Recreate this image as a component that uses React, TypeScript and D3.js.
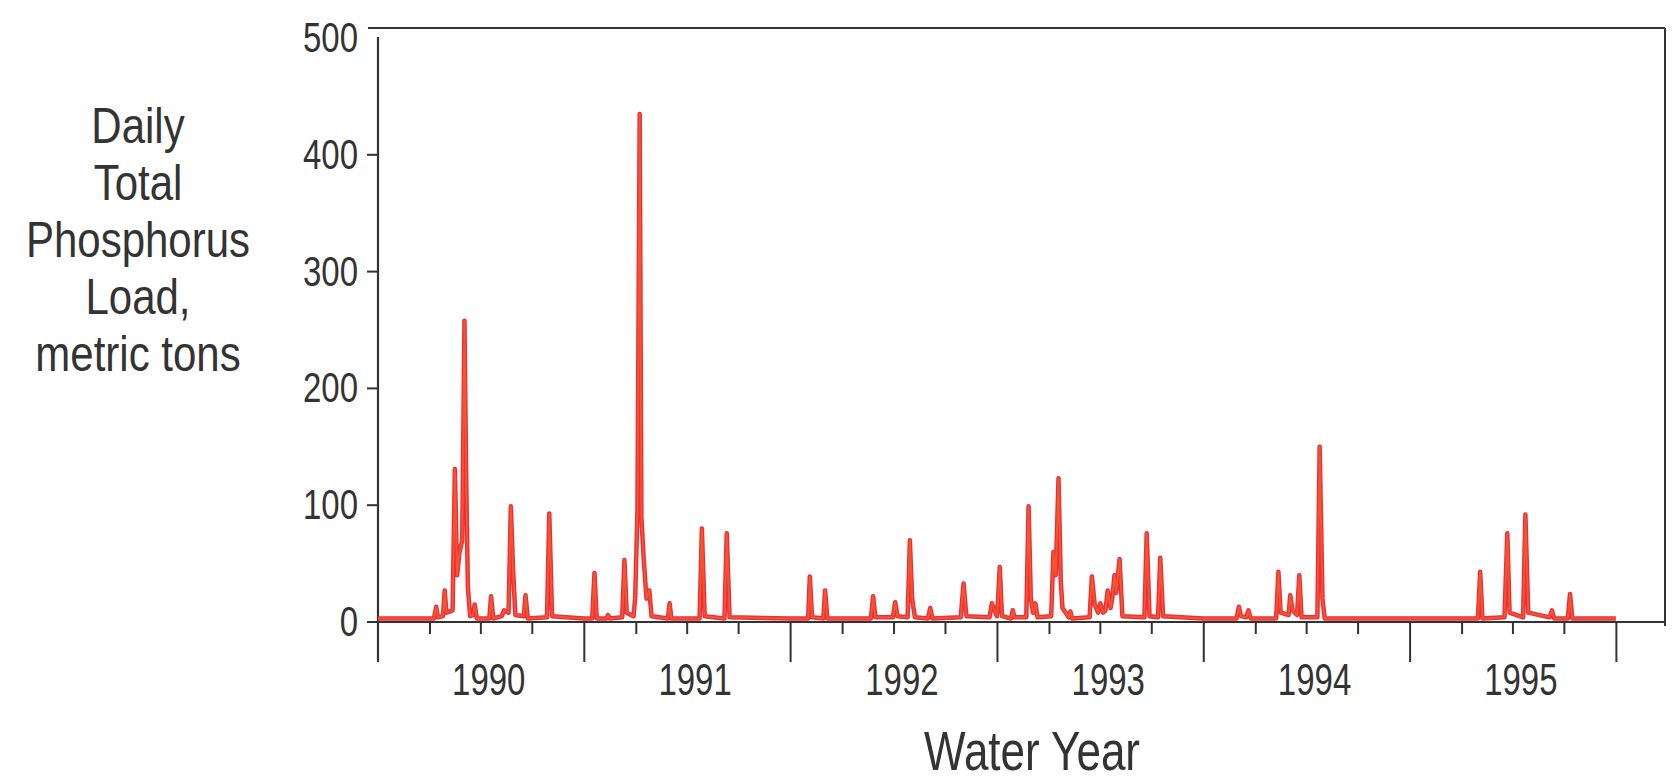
import React from "react";
import * as d3 from "d3";

// ---- Data ----
const wy1990Dates = ["1989-10-01","1990-01-08","1990-01-12","1990-01-15","1990-01-24","1990-01-27","1990-01-30","1990-02-10","1990-02-14","1990-02-18","1990-02-22","1990-02-27","1990-03-03","1990-03-06","1990-03-09","1990-03-13","1990-03-18","1990-03-21","1990-03-25","1990-04-16","1990-04-19","1990-04-23","1990-05-08","1990-05-12","1990-05-20","1990-05-24","1990-05-28","1990-06-01","1990-06-16","1990-06-19","1990-06-23","1990-07-27","1990-07-31","1990-08-05","1990-09-30"];
const wy1990Loads = [3,3,13,4,5,27,8,10,131,40,59,70,258,125,30,5,6,15,3,3,22,3,5,10,8,99,45,6,5,23,3,4,93,5,3];

const wy1991Dates = ["1990-10-01","1990-10-15","1990-10-19","1990-10-23","1990-11-09","1990-11-12","1990-11-15","1990-12-07","1990-12-11","1990-12-15","1990-12-27","1990-12-30","1991-01-03","1991-01-07","1991-01-10","1991-01-14","1991-01-19","1991-01-24","1991-01-28","1991-02-26","1991-03-01","1991-03-04","1991-04-23","1991-04-27","1991-05-02","1991-06-06","1991-06-10","1991-06-15","1991-09-30"];
const wy1991Loads = [3,3,42,3,3,6,3,4,53,8,5,20,95,435,90,55,20,27,5,3,16,3,3,80,5,3,76,4,3];

const wy1992Dates = ["1991-10-01","1991-11-01","1991-11-04","1991-11-08","1991-11-28","1991-12-01","1991-12-05","1992-02-20","1992-02-24","1992-02-28","1992-03-30","1992-04-03","1992-04-07","1992-04-25","1992-04-29","1992-05-03","1992-05-08","1992-05-31","1992-06-04","1992-06-08","1992-07-28","1992-08-02","1992-08-07","1992-09-17","1992-09-21","1992-09-30"];
const wy1992Loads = [3,3,39,4,3,27,3,3,22,4,4,17,5,4,70,20,4,3,12,3,4,33,5,4,16,5];

const wy1993Dates = ["1992-10-01","1992-10-05","1992-10-09","1992-10-25","1992-10-28","1992-10-31","1992-11-21","1992-11-25","1992-11-29","1992-12-03","1992-12-07","1992-12-11","1993-01-04","1993-01-08","1993-01-12","1993-01-17","1993-01-21","1993-01-24","1993-02-04","1993-02-07","1993-02-10","1993-03-13","1993-03-17","1993-03-22","1993-03-28","1993-04-01","1993-04-06","1993-04-10","1993-04-14","1993-04-19","1993-04-22","1993-04-26","1993-04-29","1993-05-05","1993-05-10","1993-06-18","1993-06-22","1993-06-27","1993-07-12","1993-07-16","1993-07-21","1993-09-30"];
const wy1993Loads = [10,47,5,3,10,4,4,99,20,8,16,4,5,60,40,123,35,12,4,9,3,4,39,15,8,16,8,10,27,12,20,40,25,54,5,4,76,5,4,55,5,3];

const wy1994Dates = ["1993-10-01","1993-11-28","1993-12-02","1993-12-06","1993-12-15","1993-12-19","1993-12-23","1994-02-06","1994-02-10","1994-02-14","1994-02-28","1994-03-03","1994-03-07","1994-03-15","1994-03-19","1994-03-23","1994-04-20","1994-04-24","1994-04-29","1994-05-03","1994-09-30"];
const wy1994Loads = [3,3,13,5,4,10,3,3,43,8,6,23,10,6,40,4,4,150,20,3,3];

const wy1995Dates = ["1994-10-01","1995-01-29","1995-02-02","1995-02-06","1995-03-17","1995-03-22","1995-03-26","1995-04-19","1995-04-23","1995-04-28","1995-06-05","1995-06-09","1995-06-13","1995-07-07","1995-07-11","1995-07-15","1995-09-30"];
const wy1995Loads = [3,3,43,3,4,76,8,4,92,8,4,10,3,3,24,3,3];

const yTicks = [0, 100, 200, 300, 400, 500];
const waterYears = [1990, 1991, 1992, 1993, 1994, 1995];
const yTitleLines = ["Daily", "Total", "Phosphorus", "Load,", "metric tons"];
const xTitle = "Water Year";

const allDates = [...wy1990Dates, ...wy1991Dates, ...wy1992Dates, ...wy1993Dates, ...wy1994Dates, ...wy1995Dates];
const allLoads = [...wy1990Loads, ...wy1991Loads, ...wy1992Loads, ...wy1993Loads, ...wy1994Loads, ...wy1995Loads];
const series = allDates.map((d, i) => ({ date: new Date(d + "T00:00:00Z"), value: allLoads[i] }));

export default function App() {
  const W = 1679, H = 783;
  const left = 378, right = 1665, bottom = 622, top = 38;
  const x = d3.scaleUtc()
    .domain([new Date("1989-10-01T00:00:00Z"), new Date("1995-12-26T00:00:00Z")])
    .range([left, right]);
  const y = d3.scaleLinear().domain([0, 500]).range([bottom, top]);
  const line = d3.line<{ date: Date; value: number }>()
    .x(d => x(d.date))
    .y(d => y(d.value));
  const quarterTicks = x.ticks(d3.utcMonth.every(3) as any).filter(t => t <= new Date("1995-10-01T00:00:00Z"));
  const font = "'Liberation Sans', Arial, Helvetica, sans-serif";
  const ink = "#333";
  const path = line(series) || "";

  return (
    <svg width={W} height={H} style={{ position: "absolute", left: 0, top: 0, display: "block", background: "#fff" }}>
      {/* frame top & right */}
      <line x1={368} x2={right} y1={28} y2={28} stroke={ink} strokeWidth={2.2} />
      <line x1={right} x2={right} y1={28} y2={bottom + 4} stroke={ink} strokeWidth={2} />
      {/* y axis */}
      <line x1={left} x2={left} y1={top - 1} y2={662} stroke={ink} strokeWidth={2.2} />
      {yTicks.filter(t => t < 500).map(t => (
        <line key={"yt" + t} x1={367} x2={left} y1={y(t)} y2={y(t)} stroke={ink} strokeWidth={2} />
      ))}
      {yTicks.map(t => (
        <g key={"yl" + t} transform={`translate(358,${y(t) + 14}) scale(1,1.27)`}>
          <text textAnchor="end" fontFamily={font} fontSize={33} fill={ink}>{t}</text>
        </g>
      ))}
      {/* x axis */}
      <line x1={left} x2={right} y1={bottom} y2={bottom} stroke={ink} strokeWidth={2.2} />
      {quarterTicks.map((t, i) => {
        const major = t.getUTCMonth() === 9;
        return (
          <line key={"xt" + i} x1={x(t)} x2={x(t)} y1={bottom} y2={major ? 662 : 634} stroke={ink} strokeWidth={2} />
        );
      })}
      {waterYears.map(yr => (
        <g key={"xl" + yr} transform={`translate(${x(new Date(Date.UTC(yr, 3, 15)))},695) scale(1,1.32)`}>
          <text textAnchor="middle" fontFamily={font} fontSize={33} fill={ink}>{yr}</text>
        </g>
      ))}
      {/* data */}
      <path d={path} fill="none" stroke="#ec2b40" strokeWidth={4.5} strokeLinejoin="round" />
      <path d={path} fill="none" stroke="#f4552a" strokeWidth={2} strokeLinejoin="round" />
      {/* titles */}
      {yTitleLines.map((s, i) => (
        <g key={"ytl" + i} transform={`translate(138,${143 + i * 57}) scale(1,1.2)`}>
          <text textAnchor="middle" fontFamily={font} fontSize={42} fill={ink}>{s}</text>
        </g>
      ))}
      <g transform={`translate(1032,770) scale(1,1.25)`}>
        <text textAnchor="middle" fontFamily={font} fontSize={44} fill={ink}>{xTitle}</text>
      </g>
    </svg>
  );
}
